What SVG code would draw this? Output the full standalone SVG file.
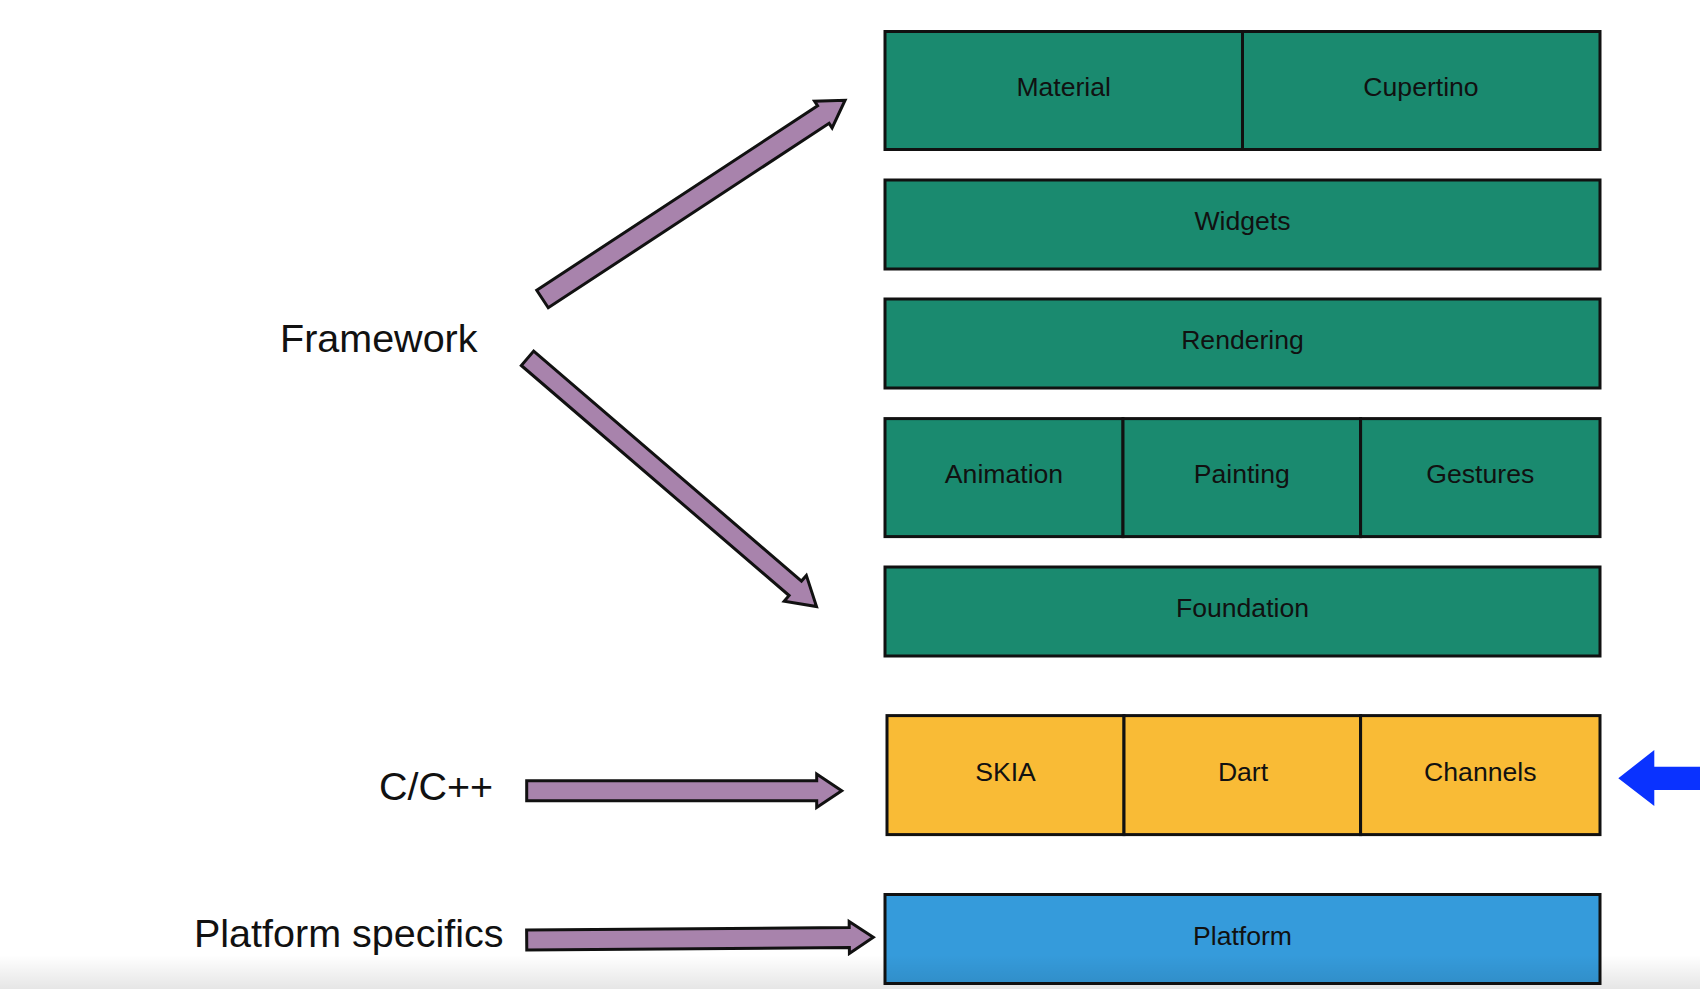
<svg xmlns="http://www.w3.org/2000/svg" width="1700" height="989" viewBox="0 0 1700 989">
<defs>
<style>
.g{fill:#1a8a6f;stroke:#111;stroke-width:3}
.y{fill:#f9bb36;stroke:#111;stroke-width:3}
.b{fill:#359bdb;stroke:#111;stroke-width:3}
.t{font-family:"Liberation Sans",Arial,sans-serif;font-size:26.6px;fill:#111;text-anchor:middle}
.lbl{font-family:"Liberation Sans",Arial,sans-serif;font-size:39.5px;fill:#111}
.arr{fill:#a883ac;stroke:#111;stroke-width:3;stroke-linejoin:miter}
</style>
<linearGradient id="shade" x1="0" y1="0" x2="0" y2="1">
<stop offset="0" stop-color="#000" stop-opacity="0"/>
<stop offset="1" stop-color="#000" stop-opacity="0.1"/>
</linearGradient>
</defs>
<rect width="1700" height="989" fill="#fff"/>
<g id="labels">
<text class="lbl" x="280" y="352">Framework</text>
<text class="lbl" x="379" y="800">C/C++</text>
<text class="lbl" x="194" y="947">Platform specifics</text>
</g>
<g id="material"><rect class="g" x="885" y="31.5" width="357.5" height="118"/><text class="t" x="1063.7" y="96">Material</text></g>
<g id="cupertino"><rect class="g" x="1242.5" y="31.5" width="357.5" height="118"/><text class="t" x="1421" y="96">Cupertino</text></g>
<g id="widgets"><rect class="g" x="885" y="180" width="715" height="89"/><text class="t" x="1242.5" y="230">Widgets</text></g>
<g id="rendering"><rect class="g" x="885" y="299" width="715" height="89"/><text class="t" x="1242.5" y="349">Rendering</text></g>
<g id="animation"><rect class="g" x="885" y="418.6" width="238" height="118"/><text class="t" x="1004" y="483">Animation</text></g>
<g id="painting"><rect class="g" x="1123" y="418.6" width="237.6" height="118"/><text class="t" x="1241.8" y="483">Painting</text></g>
<g id="gestures"><rect class="g" x="1360.6" y="418.6" width="239.4" height="118"/><text class="t" x="1480.3" y="483">Gestures</text></g>
<g id="foundation"><rect class="g" x="885" y="567" width="715" height="89"/><text class="t" x="1242.5" y="617">Foundation</text></g>
<g id="skia"><rect class="y" x="887" y="715.6" width="237" height="119"/><text class="t" x="1005.5" y="781">SKIA</text></g>
<g id="dart"><rect class="y" x="1124" y="715.6" width="236.6" height="119"/><text class="t" x="1243" y="781">Dart</text></g>
<g id="channels"><rect class="y" x="1360.6" y="715.6" width="239.4" height="119"/><text class="t" x="1480.3" y="781">Channels</text></g>
<g id="platform"><rect class="b" x="885" y="894.5" width="715" height="89"/><text class="t" x="1242.5" y="945">Platform</text></g>
<g id="connectors">
<polygon class="arr" transform="translate(542.5,299) rotate(-33.3)" points="0,-10.5 336,-10.5 336,-16 362,0 336,16 336,10.5 0,10.5"/>
<polygon class="arr" transform="translate(527.5,358.3) rotate(40.66)" points="0,-9.5 353,-9.5 353,-17 381,0 353,17 353,9.5 0,9.5"/>
<polygon class="arr" transform="translate(526.7,790.8)" points="0,-10 290,-10 290,-16.7 315,0 290,16.7 290,10 0,10"/>
<polygon class="arr" transform="translate(526.7,940) rotate(-0.45)" points="0,-10 322.6,-10 322.6,-16 346.6,0 322.6,16 322.6,10 0,10"/>
<polygon fill="#0a32ff" points="1618.3,778.3 1654.3,750 1654.3,766.7 1700,766.7 1700,790 1654.3,790 1654.3,806"/>
</g>
<rect x="0" y="955" width="1700" height="34" fill="url(#shade)"/>
</svg>
